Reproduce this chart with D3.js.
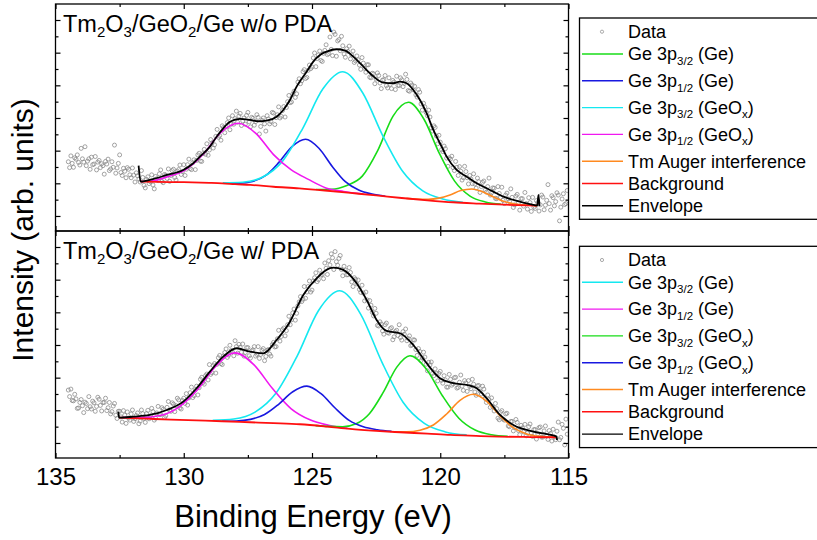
<!DOCTYPE html>
<html>
<head>
<meta charset="utf-8">
<script src="https://cdn.jsdelivr.net/npm/d3@7"></script>
<style>
  body { margin: 0; background: #fff; }
  svg { display: block; font-family: "Liberation Sans", Arial, sans-serif; }
  text { white-space: pre; }
</style>
</head>
<body>
<svg id="chart" width="817" height="540"></svg>
<script>
(function() {
  'use strict';

  // measured spectra: one value every 0.05 eV, starting at 134.5 eV
  var dataStart = 134.5;
  var dataStep = 0.05;

  var topData = [
    16.6,14.8, 18.4,16.1, 14.9,17.8, 17.4,18.7, 16.4,15.6, 20.7,17.5, 16.5,21.2, 15.4,16.8, 17.5,14.3, 18.0,15.7,
    15.9,18.2, 14.1,16.5, 17.0,14.8, 16.0,15.4, 12.8,16.7, 15.9,17.4, 13.9,14.4, 16.6,14.9, 21.7,13.1, 14.7,16.1,
    18.7,13.3, 12.4,14.6, 13.7,11.7, 14.8,14.3, 12.6,11.7, 14.7,12.5, 10.4,13.2, 12.3,11.3, 10.4,13.9, 11.8,9.4,
    8.6,11.2, 12.0,9.9, 10.5,12.6, 9.5,8.3, 12.1,11.4, 10.8,12.9, 14.1,10.6, 10.2,12.7, 12.5,11.5, 14.4,10.6,
    12.4,13.9, 14.3,11.8, 11.0,13.7, 14.2,15.6, 12.7,13.6, 15.7,12.4, 14.3,15.7, 17.4,14.5, 14.2,16.3, 17.2,14.2,
    17.0,18.7, 19.2,16.8, 16.7,19.1, 20.4,18.9, 22.1,18.6, 20.2,23.4, 22.3,20.8, 21.8,24.4, 26.5,24.1, 24.6,23.2,
    27.6,27.1, 25.5,27.3, 28.6,30.0, 26.4,28.1, 30.7,28.1, 29.8,32.1, 28.7,30.6, 31.4,27.7, 29.1,30.0, 28.1,30.8,
    31.7,28.8, 27.3,30.2, 29.9,27.8, 28.9,31.0, 30.2,25.1, 27.4,29.3, 30.0,28.2, 26.0,30.7, 29.7,28.2, 28.9,31.7,
    31.5,28.0, 30.1,31.0, 33.4,30.0, 30.5,32.3, 33.5,30.3, 33.2,35.0, 36.9,34.7, 34.9,37.3, 38.2,36.3, 37.4,41.0,
    42.0,40.5, 41.4,44.2, 44.8,42.1, 42.4,44.6, 46.2,45.1, 45.6,48.4, 49.9,45.7, 48.2,49.3, 50.5,47.6, 47.3,49.8,
    50.7,52.4, 49.4,49.7, 54.8,51.0, 49.1,56.3, 55.6,48.9, 53.6,54.0, 50.6,55.0, 52.1,49.6, 48.6,51.2, 50.4,52.0,
    48.1,49.3, 50.5,47.0, 47.5,49.0, 47.8,46.2, 44.9,48.5, 46.8,45.2, 44.0,46.3, 46.3,42.5, 42.3,43.7, 43.5,40.5,
    41.9,43.8, 43.0,40.7, 39.0,41.6, 41.7,43.0, 39.9,39.2, 42.3,40.3, 39.0,41.5, 41.0,38.7, 42.8,40.0, 39.9,42.3,
    41.7,39.6, 40.6,43.4, 41.8,38.4, 38.2,40.7, 40.1,38.6, 39.7,37.1, 36.4,38.7, 37.9,34.3, 32.4,34.5, 33.4,31.7,
    30.7,32.4, 30.3,27.0, 26.0,27.6, 27.1,24.5, 22.1,24.7, 22.6,20.3, 19.7,21.4, 20.6,17.7, 15.2,17.8, 17.4,18.3,
    14.8,13.9, 16.7,14.9, 12.4,15.1, 13.7,11.0, 11.7,15.2, 13.6,11.7, 9.8,12.4, 11.3,9.9, 12.9,9.8, 8.5,11.6,
    10.5,7.2, 9.0,10.3, 10.7,7.9, 7.3,9.0, 11.6,6.4, 7.1,8.6, 8.5,5.4, 5.3,9.0, 6.9,5.7, 8.8,4.8,
    3.8,6.4, 7.0,5.2, 4.4,8.3, 5.7,2.6, 3.4,6.1, 6.6,4.1, 1.8,5.3, 5.3,3.0, 7.2,3.8, 2.1,5.6,
    4.1,1.4, 5.7,2.7, 2.3,4.7, 4.1,1.5, 3.4,6.4, 5.8,1.9, 3.3,4.8, 9.6,3.8, 1.8,6.2, 5.6,3.1,
    4.4,7.1, 6.4,-1.5, 2.7,5.2, 6.8,3.5, 3.8,7.8
  ];

  var bottomData = [
    16.2,14.2, 16.5,13.0, 12.9,14.9, 13.5,10.6, 10.7,12.4, 13.3,11.4, 9.3,12.5, 12.1,10.5, 14.2,11.1, 10.4,12.8,
    12.3,9.7, 11.2,14.0, 13.4,11.5, 9.8,12.4, 12.4,13.7, 9.9,10.8, 12.4,8.9, 9.6,11.3, 12.1,8.5, 7.5,9.7,
    9.7,8.0, 6.4,9.9, 8.5,6.0, 9.5,7.6, 7.0,8.9, 10.1,6.6, 7.4,8.4, 9.2,5.9, 6.7,10.1, 9.0,7.5,
    6.3,9.0, 10.0,7.4, 8.3,10.6, 9.6,7.0, 7.6,9.2, 11.2,8.7, 8.7,10.8, 10.3,7.8, 8.3,10.9, 12.7,10.0,
    9.7,12.3, 11.9,9.6, 11.4,13.7, 13.2,10.7, 10.4,13.0, 13.7,12.1, 15.1,11.6, 13.8,15.4, 17.1,13.9, 14.5,16.3,
    17.4,14.7, 16.9,19.5, 20.1,18.5, 18.0,20.6, 21.1,19.3, 24.0,21.0, 21.5,23.7, 24.3,21.4, 24.1,26.1, 26.8,24.3,
    24.0,26.6, 27.7,28.8, 26.2,26.9, 29.9,28.3, 27.9,26.7, 31.3,29.5, 27.5,30.2, 29.3,27.8, 30.3,26.6, 27.7,29.2,
    29.2,26.7, 26.0,28.2, 28.5,29.5, 26.6,27.1, 29.5,25.9, 27.1,28.4, 28.9,25.2, 26.5,28.4, 28.6,27.2, 26.6,30.1,
    30.8,29.4, 29.5,31.9, 34.5,31.2, 32.6,34.7, 35.2,32.8, 34.4,36.2, 38.8,36.2, 37.7,39.8, 41.0,37.6, 39.7,42.0,
    43.2,44.8, 43.3,44.0, 47.9,44.3, 46.2,47.9, 49.6,46.2, 46.8,49.6, 50.6,52.1, 49.4,50.0, 52.9,51.4, 51.6,50.3,
    55.1,53.5, 51.6,55.8, 54.5,57.9, 56.7,53.1, 58.6,55.5, 54.4,56.5, 57.4,53.1, 51.2,54.1, 52.9,51.5, 51.5,53.7,
    52.2,49.3, 47.9,50.6, 50.1,48.7, 49.9,47.0, 46.1,48.3, 45.9,43.5, 46.2,43.8, 41.3,43.6, 42.2,40.0, 38.9,41.2,
    39.7,36.0, 35.8,37.1, 36.4,34.3, 33.3,36.2, 36.7,33.8, 33.6,35.0, 35.3,31.6, 32.5,34.1, 34.5,32.9, 36.2,32.3,
    31.5,34.1, 33.3,34.9, 31.3,32.0, 32.8,29.8, 30.0,31.6, 31.5,28.6, 26.8,28.9, 28.0,25.2, 26.0,27.8, 26.3,24.1,
    22.1,24.7, 23.9,24.8, 21.3,20.6, 22.7,21.3, 19.0,21.3, 21.9,19.2, 18.3,20.6, 19.3,17.1, 17.1,21.0, 19.5,17.7,
    18.1,20.0, 20.1,16.8, 17.0,18.6, 20.8,17.4, 16.1,19.1, 18.4,15.8, 19.1,17.3, 16.6,19.5, 18.0,15.6, 14.6,17.5,
    17.6,15.9, 15.0,17.4, 16.5,13.6, 12.4,14.7, 13.3,10.9, 13.8,11.1, 9.8,12.1, 10.5,7.6, 7.1,9.4, 9.9,7.3,
    7.0,8.9, 9.1,5.2, 5.0,6.6, 6.6,3.7, 4.7,7.2, 6.3,3.8, 2.5,5.4, 4.6,3.4, 5.7,2.2, 3.0,5.0,
    5.8,3.1, 2.0,4.1, 4.1,1.2, 2.8,4.7, 4.9,1.8, 1.8,3.7, 5.2,2.1, 1.1,3.8, 2.9,0.6, 4.2,1.8,
    1.0,3.6, 6.4,1.0, 1.7,5.7, 4.5,-0.6, 7.3,2.7
  ];

  // fitted curves, [binding energy (eV), intensity (arb.)]
  var topBackground = [[131.68,10.5],[131.0,10.42],[130.0,10.35],[129.0,10.15],[128.5,10.0],[128.0,9.75],[127.4,9.5],
    [126.5,8.95],[125.5,8.45],[124.5,7.8],[123.5,7.05],[122.5,6.3],[121.5,5.5],[120.5,4.8],[119.5,4.2],[118.5,3.8],
    [117.5,3.45],[116.22,3.15]];
  var topGe32Ge = [[124.84,8.12],[124.24,8.19],[123.64,9.35],[123.04,12.2],[122.44,20.0],[121.84,30.58],[121.24,34.8],
    [120.64,29.68],[120.04,19.25],[119.44,10.68],[118.84,6.1],[118.24,4.29],[117.64,3.62]];
  var topGe12Ge = [[128.36,10.0],[127.84,10.02],[127.32,10.58],[126.8,12.4],[126.29,16.4],[125.77,21.3],[125.25,23.5],
    [124.73,20.75],[124.21,15.17],[123.7,10.5],[123.18,7.93],[122.66,6.7],[122.14,6.06]];
  var topGe32Ox = [[128.48,10.15],[127.7,10.34],[126.92,11.92],[126.14,16.87],[125.36,26.85],[124.58,38.85],[123.8,44.15],
    [123.02,37.65],[122.24,24.55],[121.46,13.6],[120.68,7.67],[119.9,5.19],[119.12,4.2]];
  var topGe12Ox = [[131.68,10.55],[131.28,10.7],[130.6,12.1],[129.92,14.2],[129.24,18.9],[128.55,25.6],[127.87,28.4],
    [127.19,25.3],[126.5,18.8],[125.82,14.2],[125.14,11.2],[124.46,8.6],[123.77,7.5],[123.0,6.75]];
  var topTmAuger = [[121.32,5.4],[120.9,5.19],[120.47,5.11],[120.05,5.47],[119.62,6.45],[119.2,7.78],[118.77,8.28],
    [118.35,7.45],[117.92,5.8],[117.5,4.42],[117.07,3.66],[116.65,3.34],[116.23,3.17]];
  var topEnvelope = [[131.76,15.4],[131.68,10.5],[131.2,11.3],[130.66,12.55],[130.02,14.08],[129.63,16.14],[129.37,18.16],
    [128.98,21.22],[128.72,24.28],[128.46,26.85],[128.2,28.87],[127.81,29.7],[127.42,29.39],[127.1,29.0],[126.77,29.18],
    [126.38,30.4],[126.12,32.46],[125.86,35.52],[125.6,39.59],[125.21,44.18],[124.95,47.25],[124.69,49.3],[124.43,50.31],
    [124.04,51.04],[123.71,50.61],[123.39,48.78],[123.06,46.23],[122.74,43.69],[122.22,40.81],[121.83,40.63],[121.57,41.12],
    [121.31,40.63],[121.05,38.58],[120.79,35.52],[120.53,31.45],[120.27,26.33],[120.01,22.26],[119.75,18.16],[119.36,14.08],
    [118.97,12.03],[118.58,10.01],[118.19,8.48],[117.93,7.44],[117.54,5.91],[117.15,4.9],[116.76,4.07],[116.37,3.37],
    [116.22,3.15],[116.17,6.43],[116.13,3.06]];

  var bottomBackground = [[132.52,7.75],[131.5,7.45],[130.5,7.15],[129.5,6.9],[128.5,6.65],[127.42,6.34],[126.5,6.08],
    [125.47,5.73],[124.4,5.0],[123.52,4.29],[122.5,3.7],[121.57,3.28],[120.5,2.85],[119.6,2.45],[118.6,2.17],[117.7,1.95],
    [116.5,1.82],[115.46,1.75]];
  var bottomGe32Ge = [[128.87,6.92],[128.05,7.34],[127.22,9.45],[126.4,15.29],[125.57,26.75],[124.75,40.5],[123.92,46.6],
    [123.1,39.4],[122.27,24.68],[121.45,12.49],[120.62,6.02],[119.8,3.39],[118.97,2.47]];
  var bottomGe12Ge = [[132.38,7.78],[131.65,7.75],[130.92,8.4],[130.19,11.0],[129.46,16.4],[128.73,23.7],[128.0,27.6],
    [127.27,24.0],[126.54,16.65],[125.81,10.44],[125.08,7.08],[124.35,5.42],[123.62,4.46]];
  var bottomGe32Ox = [[124.86,5.32],[124.33,5.07],[123.8,4.97],[123.28,5.87],[122.755,9.04],[122.23,15.4],[121.7,23.15],
    [121.18,26.7],[120.545,22.65],[119.91,14.4],[119.275,7.59],[118.64,3.97],[118.0,2.52],[117.37,2.01]];
  var bottomGe12Ox = [[128.5,6.67],[127.95,6.74],[127.4,7.22],[126.85,8.7],[126.3,11.85],[125.75,15.68],[125.2,17.4],
    [124.65,15.1],[124.1,10.7],[123.55,6.9],[123.0,4.94],[122.45,4.04],[121.9,3.55]];
  var bottomTmAuger = [[121.83,3.45],[121.31,3.4],[120.79,3.9],[120.27,5.51],[119.75,8.87],[119.23,13.02],[118.71,14.9],
    [118.19,12.77],[117.67,8.33],[117.15,4.69],[116.63,2.78],[116.11,2.03],[115.59,1.8]];
  var bottomEnvelope = [[132.55,9.6],[132.52,7.75],[131.97,8.05],[131.32,8.57],[130.66,10.1],[130.02,12.65],[129.5,16.75],
    [128.98,21.83],[128.46,26.42],[127.94,29.0],[127.42,27.95],[126.9,27.46],[126.38,31.54],[125.86,37.14],[125.34,45.3],
    [124.82,50.4],[124.3,53.5],[124.17,53.7],[123.78,53.0],[123.26,48.9],[122.87,43.8],[122.48,37.66],[122.09,34.3],
    [121.57,33.6],[121.05,30.0],[120.53,24.4],[120.01,19.8],[119.49,18.3],[118.97,17.76],[118.58,16.75],[118.19,13.69],
    [117.67,8.57],[117.15,5.5],[116.37,3.46],[115.46,1.93],[115.45,0.92]];

  var energyTicks = [135, 130, 125, 120, 115];
  var energyMinorTicks = [132.5, 127.5, 122.5, 117.5];
  var intensityTicks = [0, 10, 20, 30, 40, 50, 60];
  var intensityMinorTicks = [5, 15, 25, 35, 45, 55];

  var labels = {
    g32ge: 'Ge 3p_{3/2} (Ge)',
    g12ge: 'Ge 3p_{1/2} (Ge)',
    g32ox: 'Ge 3p_{3/2} (GeO_{x})',
    g12ox: 'Ge 3p_{1/2} (GeO_{x})',
    tm: 'Tm Auger interference',
    bg: 'Background',
    env: 'Envelope'
  };

  var COLOR = {
    green: '#18dc18',
    blue: '#1818e0',
    cyan: '#14e8f0',
    magenta: '#f018f0',
    orange: '#ff8a20',
    red: '#ff1010',
    black: '#000000',
    data: '#868686'
  };

  var PLOT = { LEFT: 55.5, RIGHT: 568.5 };
  var DOMAIN_Y = [-4.6, 64.9];

  var svg = d3.select('#chart');
  var x = d3.scaleLinear().domain([135, 115]).range([PLOT.LEFT, PLOT.RIGHT]);

  function rich(sel, str, subSize, shift) {
    var parts = str.split(/(_\{[^}]*\})/).filter(function(s) { return s.length; });
    var lowered = false;
    parts.forEach(function(s) {
      var isSub = s.indexOf('_{') === 0;
      var t = sel.append('tspan').text(isSub ? s.slice(2, -1) : s);
      if (isSub) {
        t.attr('font-size', subSize).attr('dy', shift);
        lowered = true;
      } else if (lowered) {
        t.attr('dy', -shift);
        lowered = false;
      }
    });
  }

  function styleAxis(g) {
    g.select('.domain').remove();
    g.selectAll('.tick line').attr('stroke', '#000').attr('stroke-width', 1.2);
  }

  function drawPanel(p, idx) {
    var y = d3.scaleLinear().domain(DOMAIN_Y).range([p.bottom, p.top]);
    var g = svg.append('g');

    svg.append('clipPath').attr('id', 'clip' + idx)
      .append('rect')
      .attr('x', PLOT.LEFT).attr('y', p.top)
      .attr('width', PLOT.RIGHT - PLOT.LEFT).attr('height', p.bottom - p.top);

    var plot = g.append('g').attr('clip-path', 'url(#clip' + idx + ')');

    plot.selectAll('circle.pt')
      .data(p.data)
      .enter().append('circle')
      .attr('class', 'pt')
      .attr('cx', function(d, i) { return x(dataStart - i * dataStep); })
      .attr('cy', function(d) { return y(d); })
      .attr('r', 2)
      .style('fill', 'none')
      .style('stroke', COLOR.data)
      .style('stroke-width', 0.75);

    var line = d3.line()
      .x(function(d) { return x(d[0]); })
      .y(function(d) { return y(d[1]); })
      .curve(d3.curveMonotoneX);

    p.curves.forEach(function(c) {
      plot.append('path')
        .datum(c.points)
        .attr('d', line)
        .style('fill', 'none')
        .style('stroke', c.color)
        .style('stroke-width', c.width)
        .style('stroke-linejoin', 'round');
    });

    // ticks on all four sides, pointing in
    [[d3.axisBottom, p.bottom, 'x'], [d3.axisTop, p.top, 'x'],
     [d3.axisLeft, PLOT.LEFT, 'y'], [d3.axisRight, PLOT.RIGHT, 'y']].forEach(function(a) {
      var scale = a[2] === 'x' ? x : y;
      var major = a[2] === 'x' ? energyTicks : intensityTicks;
      var minor = a[2] === 'x' ? energyMinorTicks : intensityMinorTicks;
      var tr = a[2] === 'x' ? 'translate(0,' + a[1] + ')' : 'translate(' + a[1] + ',0)';
      g.append('g').attr('transform', tr)
        .call(a[0](scale).tickValues(major).tickSize(-5).tickFormat(''))
        .call(styleAxis);
      g.append('g').attr('transform', tr)
        .call(a[0](scale).tickValues(minor).tickSize(-3).tickFormat(''))
        .call(styleAxis);
    });

    if (p.labels) {
      var lab = g.append('g').attr('transform', 'translate(0,' + p.bottom + ')')
        .call(d3.axisBottom(x).tickValues(energyTicks).tickSize(0).tickPadding(10)
          .tickFormat(d3.format('d')));
      lab.select('.domain').remove();
      lab.selectAll('text')
        .attr('font-size', 24)
        .attr('font-family', '"Liberation Sans", Arial, sans-serif')
        .attr('fill', '#000');
    }

    g.append('rect')
      .attr('x', PLOT.LEFT).attr('y', p.top)
      .attr('width', PLOT.RIGHT - PLOT.LEFT).attr('height', p.bottom - p.top)
      .style('fill', 'none').style('stroke', '#000').style('stroke-width', 1.3);

    var title = g.append('text')
      .attr('x', 63).attr('y', p.top + p.titleBase)
      .attr('font-size', 23.5).attr('fill', '#000');
    rich(title, p.title, 15, 5);

    drawLegend(p.legend, p.legendTop);
  }

  function drawLegend(items, firstRow) {
    var lg = svg.append('g');
    var rows = [];
    var yy = firstRow;
    items.forEach(function(it, i) {
      if (i > 0) {
        yy += items[i - 1].label.indexOf('_{') >= 0 ? 26.8 : 22.3;
      }
      rows.push(yy);
    });

    lg.append('rect')
      .attr('x', 579.5).attr('y', firstRow - 13.7)
      .attr('width', 300).attr('height', rows[rows.length - 1] - firstRow + 27.2)
      .style('fill', '#fff').style('stroke', '#000').style('stroke-width', 1.3);

    items.forEach(function(it, i) {
      var ry = rows[i];
      if (it.marker) {
        lg.append('circle')
          .attr('cx', 602).attr('cy', ry).attr('r', 1.6)
          .style('fill', 'none').style('stroke', COLOR.data).style('stroke-width', 0.7);
      } else {
        lg.append('line')
          .attr('x1', 582).attr('x2', 623).attr('y1', ry).attr('y2', ry)
          .style('stroke', it.color).style('stroke-width', 1.4);
      }
      var t = lg.append('text')
        .attr('x', 628).attr('y', ry + 6.3)
        .attr('font-size', 18).attr('fill', '#000');
      rich(t, it.label, 11.5, 4.5);
    });
  }

  var panels = [
    {
      top: 4, bottom: 231, titleBase: 27.5,
      title: 'Tm_{2}O_{3}/GeO_{2}/Ge w/o PDA',
      data: topData,
      curves: [
        { points: topGe32Ge, color: COLOR.green, width: 1.6 },
        { points: topGe12Ge, color: COLOR.blue, width: 1.6 },
        { points: topGe32Ox, color: COLOR.cyan, width: 1.6 },
        { points: topGe12Ox, color: COLOR.magenta, width: 1.6 },
        { points: topTmAuger, color: COLOR.orange, width: 1.6 },
        { points: topBackground, color: COLOR.red, width: 1.8 },
        { points: topEnvelope, color: COLOR.black, width: 1.8 }
      ],
      legendTop: 31.7,
      legend: [
        { label: 'Data', marker: true },
        { label: labels.g32ge, color: COLOR.green },
        { label: labels.g12ge, color: COLOR.blue },
        { label: labels.g32ox, color: COLOR.cyan },
        { label: labels.g12ox, color: COLOR.magenta },
        { label: labels.tm, color: COLOR.orange },
        { label: labels.bg, color: COLOR.red },
        { label: labels.env, color: COLOR.black }
      ]
    },
    {
      top: 231, bottom: 458, titleBase: 28,
      title: 'Tm_{2}O_{3}/GeO_{2}/Ge w/ PDA',
      data: bottomData,
      labels: true,
      curves: [
        { points: bottomGe32Ge, color: COLOR.cyan, width: 1.6 },
        { points: bottomGe12Ge, color: COLOR.magenta, width: 1.6 },
        { points: bottomGe32Ox, color: COLOR.green, width: 1.6 },
        { points: bottomGe12Ox, color: COLOR.blue, width: 1.6 },
        { points: bottomTmAuger, color: COLOR.orange, width: 1.6 },
        { points: bottomBackground, color: COLOR.red, width: 1.8 },
        { points: bottomEnvelope, color: COLOR.black, width: 1.8 }
      ],
      legendTop: 260,
      legend: [
        { label: 'Data', marker: true },
        { label: labels.g32ge, color: COLOR.cyan },
        { label: labels.g12ge, color: COLOR.magenta },
        { label: labels.g32ox, color: COLOR.green },
        { label: labels.g12ox, color: COLOR.blue },
        { label: labels.tm, color: COLOR.orange },
        { label: labels.bg, color: COLOR.red },
        { label: labels.env, color: COLOR.black }
      ]
    }
  ];

  panels.forEach(drawPanel);

  svg.append('text')
    .attr('transform', 'translate(33,230) rotate(-90)')
    .attr('text-anchor', 'middle')
    .attr('font-size', 30)
    .attr('fill', '#000')
    .text('Intensity (arb. units)');

  svg.append('text')
    .attr('x', 313).attr('y', 527)
    .attr('text-anchor', 'middle')
    .attr('font-size', 31)
    .attr('fill', '#000')
    .text('Binding Energy (eV)');
}());
</script>
</body>
</html>
